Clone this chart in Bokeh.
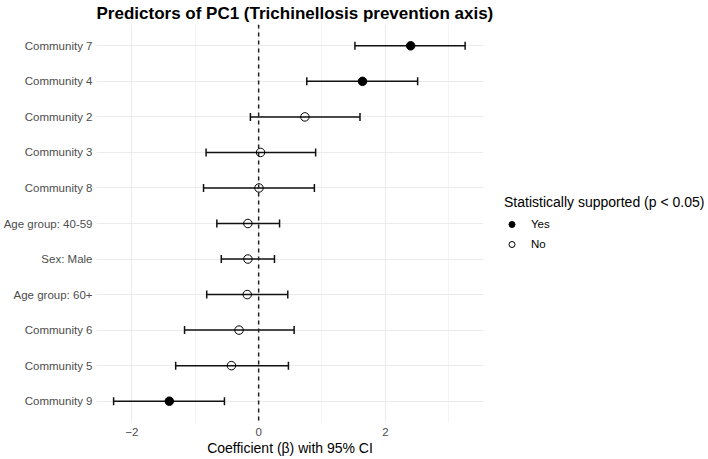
from bokeh.plotting import figure
from bokeh.layouts import row
from bokeh.models import (ColumnDataSource, Whisker, TeeHead, Span, Range1d, FactorRange,
                          FixedTicker, Legend, LegendItem)
from bokeh.embed import file_html
from bokeh.resources import INLINE

# Data (top to bottom as displayed)
terms = ["Community 7", "Community 4", "Community 2", "Community 3", "Community 8",
         "Age group: 40-59", "Sex: Male", "Age group: 60+", "Community 6",
         "Community 5", "Community 9"]
estimate = [2.40, 1.64, 0.73, 0.03, 0.005, -0.17, -0.17, -0.18, -0.31, -0.43, -1.41]
ci_low = [1.52, 0.76, -0.13, -0.83, -0.87, -0.66, -0.59, -0.82, -1.17, -1.31, -2.29]
ci_high = [3.26, 2.51, 1.60, 0.90, 0.88, 0.33, 0.25, 0.46, 0.56, 0.47, -0.54]
supported = ["Yes", "Yes", "No", "No", "No", "No", "No", "No", "No", "No", "Yes"]
legend_labels = ["Yes", "No"]
x_ticks = [-2, 0, 2]
x_minor = [-1, 1, 3]

FONT = "Liberation Sans"

p = figure(width=500, height=459, output_backend="svg", toolbar_location=None,
           x_range=Range1d(-2.56, 3.55),
           y_range=FactorRange(factors=list(reversed(terms)), range_padding=0.1,
                               range_padding_units="absolute"),
           min_border_left=96, min_border_right=17, min_border_top=24, min_border_bottom=37)

p.outline_line_color = None
p.background_fill_color = "white"
p.border_fill_color = "white"

p.title.text = "Predictors of PC1 (Trichinellosis prevention axis)"
p.title.text_font = FONT
p.title.text_font_size = "17px"
p.title.text_font_style = "bold"
p.title.text_color = "black"
p.title.vertical_align = "top"
p.title.offset = 0
p.title.standoff = 0

# grids
p.xgrid.ticker = FixedTicker(ticks=x_ticks, minor_ticks=x_minor)
p.xaxis.ticker = FixedTicker(ticks=x_ticks, minor_ticks=x_minor)
p.xgrid.grid_line_color = "#EBEBEB"
p.xgrid.grid_line_width = 1.1
p.xgrid.minor_grid_line_color = "#EBEBEB"
p.xgrid.minor_grid_line_width = 0.55
p.ygrid.grid_line_color = "#EBEBEB"
p.ygrid.grid_line_width = 1.1

for ax in (p.xaxis, p.yaxis):
    ax.axis_line_color = None
    ax.axis_line_width = 0
    ax.major_tick_line_color = None
    ax.minor_tick_line_color = None
    ax.major_tick_out = 0
    ax.major_tick_in = 0
    ax.minor_tick_out = 0
    ax.minor_tick_in = 0
    ax.major_label_text_font = FONT
    ax.major_label_text_font_size = "11.5px"
    ax.major_label_text_color = "#4D4D4D"

p.yaxis.major_label_standoff = 4
p.xaxis.major_label_standoff = 5
p.xaxis.axis_label = "Coefficient (\u03b2) with 95% CI"
p.xaxis.axis_label_text_font = FONT
p.xaxis.axis_label_text_font_size = "14px"
p.xaxis.axis_label_text_font_style = "normal"
p.xaxis.axis_label_text_color = "black"
p.xaxis.axis_label_standoff = 1

src = ColumnDataSource(dict(term=terms, est=estimate, lo=ci_low, hi=ci_high, sup=supported))

p.add_layout(Span(location=0, dimension="height", line_color="#222222",
                  line_width=1.5, line_dash="4 4"))

wh = Whisker(source=src, base="term", lower="lo", upper="hi", dimension="width",
             line_color="#111111", line_width=1.5,
             upper_head=TeeHead(size=8, line_color="#111111", line_width=1.5),
             lower_head=TeeHead(size=8, line_color="#111111", line_width=1.5))
p.add_layout(wh)

yes_idx = [i for i, s in enumerate(supported) if s == "Yes"]
no_idx = [i for i, s in enumerate(supported) if s == "No"]
src_yes = ColumnDataSource(dict(term=[terms[i] for i in yes_idx], est=[estimate[i] for i in yes_idx]))
src_no = ColumnDataSource(dict(term=[terms[i] for i in no_idx], est=[estimate[i] for i in no_idx]))

p.scatter("est", "term", source=src_yes, size=8.5, fill_color="black",
          line_color="black", line_width=1)
p.scatter("est", "term", source=src_no, size=8.5, fill_color=None,
          line_color="black", line_width=1)

# Legend panel (separate figure to the right; its data range lies outside the data,
# so only the legend is shown)
q = figure(width=208, height=459, output_backend="svg", toolbar_location=None,
           x_range=Range1d(100, 101), y_range=FactorRange(factors=list(reversed(terms))),
           x_axis_location=None, y_axis_location=None,
           min_border_left=0, min_border_right=0, min_border_top=0, min_border_bottom=0)
q.outline_line_color = None
q.xgrid.visible = False
q.ygrid.visible = False
q.border_fill_color = "white"
q.background_fill_color = "white"

l_yes = q.scatter("est", "term", source=src_yes, size=7, fill_color="black",
                  line_color="black", line_width=1)
l_no = q.scatter("est", "term", source=src_no, size=7, fill_color=None,
                 line_color="black", line_width=1)

legend = Legend(items=[LegendItem(label=legend_labels[0], renderers=[l_yes]),
                       LegendItem(label=legend_labels[1], renderers=[l_no])],
                location=(4, 168), orientation="vertical",
                title="Statistically supported (p < 0.05)",
                title_text_font=FONT, title_text_font_size="14px",
                title_text_font_style="normal", title_text_color="black",
                title_standoff=4,
                label_text_font=FONT, label_text_font_size="11.5px", label_text_color="black",
                glyph_width=15, glyph_height=20, label_height=20, label_standoff=12,
                spacing=0, padding=0, margin=0,
                border_line_color=None, background_fill_alpha=0)
q.add_layout(legend, "center")

layout = row(p, q, spacing=0)
open("out.html", "w").write(file_html(layout, INLINE))
